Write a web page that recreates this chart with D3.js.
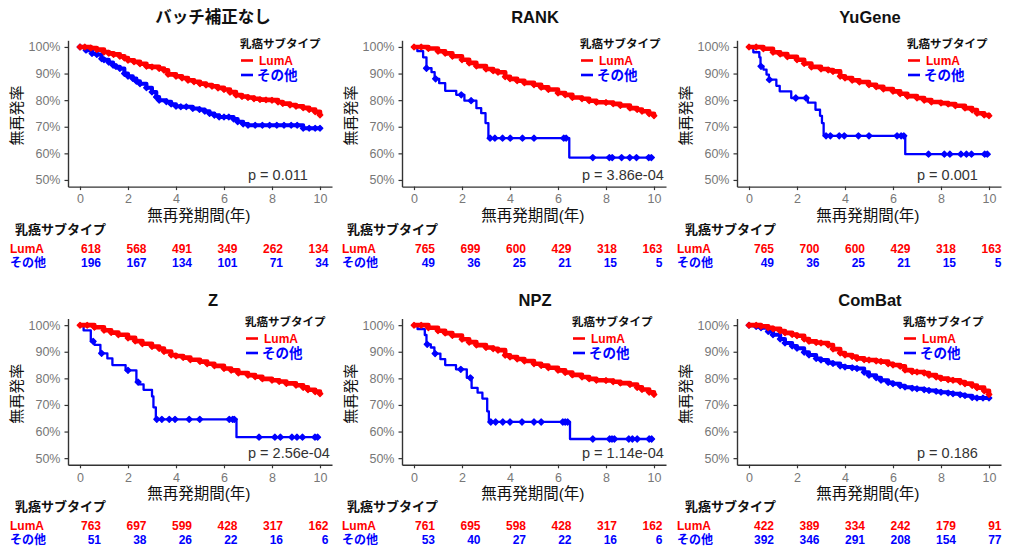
<!DOCTYPE html>
<html><head><meta charset="utf-8">
<script src="https://cdn.jsdelivr.net/npm/d3@7"></script>
<style>
html,body{margin:0;padding:0;background:#fff;}
svg{display:block;font-family:"Liberation Sans",Arial,"Noto Sans CJK JP",sans-serif;}
</style></head><body>
<svg id="chart" width="1009" height="551"></svg>
<script>
// ---- data ----
const titles = ["バッチ補正なし", "RANK", "YuGene", "Z", "NPZ", "ComBat"];
const groupNames = ["LumA", "その他"];
const legendTitle = "乳癌サブタイプ";
const xTicks = [0, 2, 4, 6, 8, 10];
const yTicks = [50, 60, 70, 80, 90, 100];
const riskTimes = [0, 2, 4, 6, 8, 10];
const pValues = ["0.011", "3.86e-04", "0.001", "2.56e-04", "1.14e-04", "0.186"];

const riskLumA = [
  [618, 568, 491, 349, 262, 134],
  [765, 699, 600, 429, 318, 163],
  [765, 700, 600, 429, 318, 163],
  [763, 697, 599, 428, 317, 162],
  [761, 695, 598, 428, 317, 162],
  [422, 389, 334, 242, 179, 91]
];
const riskOther = [
  [196, 167, 134, 101, 71, 34],
  [49, 36, 25, 21, 15, 5],
  [49, 36, 25, 21, 15, 5],
  [51, 38, 26, 22, 16, 6],
  [53, 40, 27, 22, 16, 6],
  [392, 346, 291, 208, 154, 77]
];

// survival curves: [years, survival %]
const lumA_none = [[0,100],[0.2,100],[0.45,99.6],[0.7,99],[1,98.1],[1.2,97.6],[1.4,97.2],[1.66,96.5],[1.85,95.8],[2,95],[2.25,94.4],[2.5,93.7],[2.77,92.7],[3,92.5],[3.3,91.9],[3.5,91.2],[3.67,89.7],[4,89],[4.25,88.3],[4.5,87.5],[4.75,86.9],[5,86.2],[5.25,85.7],[5.5,85.2],[5.75,84.6],[6,84],[6.25,83],[6.5,81.9],[6.75,81.4],[7,81],[7.25,80.5],[7.5,80.2],[7.75,80.1],[8,80],[8.25,79.3],[8.45,78.7],[8.75,78.2],[9,77.7],[9.3,77.1],[9.55,76.5],[9.8,75.6],[10,74.4]];
const other_none = [[0,100],[0.25,98.8],[0.5,97.5],[0.7,97.2],[0.9,95.6],[1,95.2],[1.2,94.2],[1.38,93.1],[1.5,92.6],[1.66,91.9],[1.85,90],[2,89],[2.2,88.1],[2.35,87.1],[2.5,86.2],[2.77,84.7],[3,83.1],[3.18,81.2],[3.3,80],[3.6,79.4],[3.8,78.5],[4,77.7],[4.2,77.5],[4.43,77.5],[4.7,76.9],[4.98,76.5],[5.2,75.8],[5.4,75],[5.6,74.3],[5.8,73.7],[6,73.7],[6.2,73.7],[6.4,72.9],[6.57,71.9],[6.8,71],[7,70.6],[7.3,70.6],[7.6,70.6],[7.9,70.6],[8.2,70.6],[8.5,70.6],[8.8,70.6],[9.05,70.6],[9.3,69.4],[9.55,69.4],[9.8,69.4],[10,69.4]];

const lumA_rank = [[0,100],[0.3,100],[0.6,99.4],[1,98.4],[1.3,97.6],[1.6,96.5],[2,95.2],[2.3,94],[2.6,92.8],[3,91.7],[3.3,91],[3.5,90.5],[3.8,88.8],[4,88],[4.3,87.3],[4.6,86.5],[5,85.8],[5.3,84.8],[5.6,84],[6,82.7],[6.3,82],[6.6,81],[7,80.5],[7.3,79.8],[7.6,79.2],[8,79.1],[8.3,78.6],[8.6,78],[9,77],[9.3,76.5],[9.5,75.8],[9.8,74.9],[10,74.1]];
const other_rank = [[0,100],[0.14,98.4],[0.38,96.1],[0.52,92],[0.73,90.5],[0.86,88],[1.05,86.4],[1.3,83.5],[1.76,82],[2.1,79.8],[2.6,77],[2.8,75.1],[2.98,71.4],[3.1,65.7],[6.47,58.4],[9.95,58.4]];
const censor_rank = [0.52,0.9,1.97,2.38,3.17,3.37,3.69,4.01,4.52,5.0,6.24,6.34,7.45,8.14,8.26,8.65,8.99,9.27,9.78,9.89];

const lumA_yugene = [[0,100],[0.3,100],[0.6,99.3],[1,98],[1.3,97.3],[1.6,96.3],[2,95.2],[2.3,93.8],[2.6,92.5],[3,91.7],[3.3,91.3],[3.5,90.8],[3.8,89],[4,88.3],[4.3,87.5],[4.6,86.8],[5,85.8],[5.3,85],[5.6,84.2],[6,83.3],[6.3,82.4],[6.6,81.5],[7,80.8],[7.3,80],[7.6,79.3],[8,78.9],[8.3,78.5],[8.6,77.9],[9,77],[9.3,76.3],[9.5,75.1],[9.8,74.4],[10,74.1]];
const other_yugene = [[0,100],[0.18,98],[0.43,96.1],[0.48,92.7],[0.6,91.5],[0.73,89.6],[0.83,87.7],[1.14,85.4],[1.28,83.3],[1.76,80.8],[2.45,79.1],[2.77,76.4],[2.96,74.1],[3.04,71.4],[3.11,66.6],[6.51,59.7],[9.9,59.7]];
const censor_yugene = [0.5,0.85,1.95,2.38,3.21,3.39,3.76,3.97,4.56,5.0,6.17,6.34,6.45,7.48,8.14,8.37,8.83,9.06,9.27,9.82,9.93];

const lumA_z = [[0,100],[0.3,100],[0.6,99.2],[1,98.1],[1.3,97.2],[1.6,96.4],[2,95.2],[2.3,94],[2.6,93],[3,92],[3.3,91.2],[3.5,90.1],[3.8,88.8],[4,88.4],[4.3,87.8],[4.6,87],[5,86.3],[5.3,85.5],[5.6,84.7],[6,83.7],[6.3,83],[6.6,82],[7,81.2],[7.3,80.6],[7.6,79.8],[8,79.3],[8.3,78.8],[8.6,78.1],[9,77.4],[9.3,76.6],[9.5,75.7],[9.8,75],[10,74.2]];
const other_z = [[0,100],[0.15,98],[0.45,93.9],[0.6,92.6],[0.85,89.4],[1.14,87.5],[1.35,85],[1.9,83],[2.35,78.6],[2.45,77.7],[2.65,75.7],[3.0,73.2],[3.06,69.1],[3.16,64.6],[6.52,57.9],[9.9,57.9]];
const censor_z = [0.55,0.9,2.0,2.42,3.2,3.41,3.72,3.96,4.55,4.99,6.22,6.36,6.43,7.46,8.12,8.35,8.83,9.04,9.27,9.79,9.9];

const lumA_npz = [[0,100],[0.3,100],[0.6,99],[1,97.9],[1.3,97],[1.6,96.1],[2,94.7],[2.3,93.6],[2.6,92.5],[3,91.6],[3.3,91.1],[3.5,90.6],[3.8,88.7],[4,88],[4.3,87.3],[4.6,86.5],[5,85.5],[5.3,84.8],[5.6,84],[6,83],[6.3,82.2],[6.6,81.3],[7,80.5],[7.3,79.8],[7.6,79.3],[8,79.2],[8.3,78.7],[8.6,78.2],[9,77.7],[9.3,76.6],[9.5,75.8],[9.8,74.8],[10,73.9]];
const other_npz = [[0,100],[0.15,98.5],[0.45,96.3],[0.52,92.8],[0.7,91.6],[0.85,89.3],[1.1,87.2],[1.3,85],[1.75,83.4],[2.2,80.2],[2.4,76.4],[2.65,74.6],[2.85,72.4],[3.05,67.6],[3.12,63.6],[6.5,57.2],[9.95,57.2]];
const censor_npz = [0.55,0.88,1.95,2.35,3.2,3.4,3.7,4.0,4.5,5.0,5.3,6.2,6.3,6.4,7.45,8.15,8.25,8.35,8.95,9.1,9.3,9.8,9.9];

const lumA_combat = [[0,100],[0.3,100],[0.5,99.6],[0.8,99],[1,98.6],[1.3,97.8],[1.5,97.1],[1.8,96.5],[2,96],[2.3,94.8],[2.5,93.9],[2.8,93.5],[3,93.3],[3.3,92.5],[3.5,91],[3.8,89.5],[4,88.8],[4.3,88.2],[4.5,87.5],[4.8,87],[5,86.9],[5.3,86.5],[5.5,86.3],[5.8,85.5],[6,85],[6.3,84.5],[6.5,83.1],[6.8,82.5],[7,82.4],[7.3,82],[7.5,81.2],[7.8,80.5],[8,79.9],[8.3,79.5],[8.5,79.3],[8.8,78.6],[9,78],[9.3,77.3],[9.5,76.5],[9.8,75.3],[10,73.9]];
const other_combat = [[0,100],[0.3,99.5],[0.5,99],[0.8,97.6],[1,96.4],[1.3,94.8],[1.5,93.3],[1.8,92.2],[2,91.3],[2.3,89.8],[2.5,88.8],[2.8,87.5],[3,86.9],[3.3,86],[3.5,85.6],[3.8,84.6],[4,84.3],[4.3,84],[4.5,83.7],[4.8,82.3],[5,81.2],[5.3,80.2],[5.5,79.3],[5.8,78.4],[6,78],[6.3,77.2],[6.5,76.7],[6.8,76.3],[7,76.1],[7.3,75.7],[7.5,75.4],[7.8,75.1],[8,74.8],[8.3,74.5],[8.5,74.2],[8.8,73.8],[9,73.5],[9.3,72.8],[9.5,72.6],[9.75,72.6],[10,72.6]];

// per panel: [LumA curve, other curve, other censor times (null = censored at every listed point)]
const panelCurves = [
  [lumA_none, other_none, null],
  [lumA_rank, other_rank, censor_rank],
  [lumA_yugene, other_yugene, censor_yugene],
  [lumA_z, other_z, censor_z],
  [lumA_npz, other_npz, censor_npz],
  [lumA_combat, other_combat, null]
];

// ---- layout ----
const RED = "#ff0000", BLUE = "#0000ff";
const colAxisX = [68, 402, 737];
const rowTop = [40.3, 318.5];
const plotW = 264, plotH = 146.3;
const titleX = [213, 535, 870], titleY = [17, 300];
const legendX = [[240, 580, 907], [245, 572, 903]], legendY = [44, 322];
const tableTitleX = [15, 347, 685], rowLabelX = [10, 342, 677], tableY = [229, 506];
const tableShift = [0, 0, 4];

const svg = d3.select("#chart");
svg.append("rect").attr("width", 1009).attr("height", 551).attr("fill", "#fff");

const stepLine = (x, y) => d3.line().x(d => x(d[0])).y(d => y(d[1])).curve(d3.curveStepAfter);
const survAt = (curve, t) => { let v = curve[0][1]; for (const p of curve) { if (p[0] <= t) v = p[1]; } return v; };
// censor marks: small squares turned on their corner
const denseMark = d3.symbol().type(d3.symbolSquare).size(15);
const sparseMark = d3.symbol().type(d3.symbolSquare).size(17);

titles.forEach((title, i) => {
  const r = Math.floor(i / 3), c = i % 3;
  const x0 = colAxisX[c], top = rowTop[r];
  const x = d3.scaleLinear().domain([-0.5, 10.5]).range([x0, x0 + plotW]);
  const y = d3.scaleLinear().domain([47.5, 102.5]).range([top + plotH, top]);
  const g = svg.append("g");

  // title
  g.append("text").attr("x", titleX[c]).attr("y", titleY[r])
    .attr("text-anchor", "middle").attr("dominant-baseline", "central")
    .attr("font-size", 16.5).attr("font-weight", "bold").attr("fill", "#111").text(title);

  // axes
  const ax = g.append("g").attr("transform", `translate(0,${top + plotH})`)
    .call(d3.axisBottom(x).tickValues(xTicks).tickSize(3.5).tickSizeOuter(0).tickPadding(4.5));
  const ay = g.append("g").attr("transform", `translate(${x0},0)`)
    .call(d3.axisLeft(y).tickValues(yTicks).tickFormat(d => d + "%").tickSize(3.5).tickSizeOuter(0).tickPadding(4));
  [ax, ay].forEach(a => {
    a.select(".domain").attr("stroke", "#333").attr("stroke-width", 1.4);
    a.selectAll(".tick line").attr("stroke", "#333").attr("stroke-width", 1.2);
    a.selectAll(".tick text").attr("fill", "#777").attr("font-size", 12.5)
      .attr("font-family", '"Liberation Sans", Arial, sans-serif');
  });

  // axis titles
  g.append("text").attr("x", x(4.95)).attr("y", top + plotH + 28.5)
    .attr("text-anchor", "middle").attr("dominant-baseline", "central")
    .attr("font-size", 15.5).attr("fill", "#111").text("無再発期間(年)");
  g.append("text").attr("transform", `translate(${x0 - 52},${top + plotH / 2 + 2}) rotate(-90)`)
    .attr("text-anchor", "middle").attr("dominant-baseline", "central")
    .attr("font-size", 15).attr("fill", "#111").text("無再発率");

  // curves
  const [lumA, other, censor] = panelCurves[i];
  const line = stepLine(x, y);
  const drawCurve = (curve, color, width, censorTimes) => {
    g.append("path").attr("d", line(curve)).attr("fill", "none")
      .attr("stroke", color).attr("stroke-width", width).attr("stroke-linejoin", "round");
    const pts = censorTimes ? censorTimes.map(t => [t, survAt(curve, t)]) : curve;
    g.selectAll(null).data(pts).enter().append("path")
      .attr("d", censorTimes ? sparseMark : denseMark)
      .attr("transform", d => `translate(${x(d[0])},${y(d[1])}) rotate(45)`)
      .attr("fill", color).attr("stroke", color).attr("stroke-width", 1.4)
      .attr("stroke-linejoin", "round");
  };
  const denseOther = censor === null;
  drawCurve(other, BLUE, denseOther ? 4 : 2.3, censor);
  drawCurve(lumA, RED, 4.6, null);

  // p-value
  g.append("text").attr("x", x(7)).attr("y", y(52))
    .attr("dominant-baseline", "central").attr("font-size", 14.5).attr("fill", "#333")
    .text("p = " + pValues[i]);

  // legend
  const lx = legendX[r][c], ly = legendY[r];
  g.append("text").attr("x", lx).attr("y", ly).attr("dominant-baseline", "central")
    .attr("font-size", 11.5).attr("font-weight", "bold").attr("fill", "#111").text(legendTitle);
  [[RED, groupNames[0], 16.5, 19], [BLUE, groupNames[1], 31, 17]].forEach(([col, name, dy, tx]) => {
    g.append("line").attr("x1", lx + 1).attr("x2", lx + 13).attr("y1", ly + dy).attr("y2", ly + dy)
      .attr("stroke", col).attr("stroke-width", 2.6);
    g.append("text").attr("x", lx + tx).attr("y", ly + dy).attr("dominant-baseline", "central")
      .attr("font-size", name === "LumA" ? 12 : 13.5).attr("font-weight", "bold").attr("fill", col).text(name);
  });

  // risk table
  const ty = tableY[r];
  const tx = d3.scaleLinear().domain([0, 10]).range([x0 + 33 + tableShift[c], x0 + 260.5 + tableShift[c]]);
  g.append("text").attr("x", tableTitleX[c]).attr("y", ty).attr("dominant-baseline", "central")
    .attr("font-size", 13).attr("font-weight", "bold").attr("fill", "#111").text(legendTitle);
  [[RED, groupNames[0], riskLumA[i], 19.5], [BLUE, groupNames[1], riskOther[i], 33.5]].forEach(([col, name, vals, dy]) => {
    g.append("text").attr("x", rowLabelX[c]).attr("y", ty + dy).attr("dominant-baseline", "central")
      .attr("font-size", 12).attr("font-weight", "bold").attr("fill", col).text(name);
    g.selectAll(null).data(vals).enter().append("text")
      .attr("x", (d, k) => tx(riskTimes[k])).attr("y", ty + dy)
      .attr("text-anchor", "end").attr("dominant-baseline", "central")
      .attr("font-size", 12).attr("font-weight", "bold").attr("fill", col).text(d => d);
  });
});
</script></body></html>
